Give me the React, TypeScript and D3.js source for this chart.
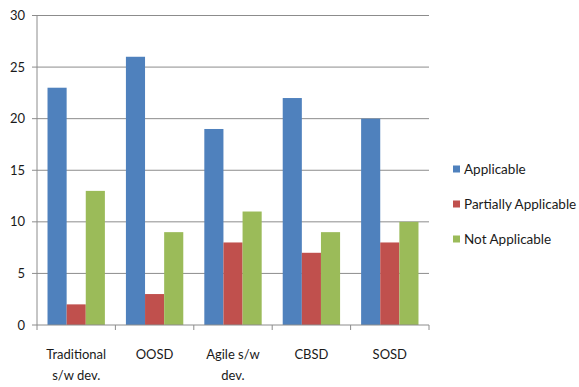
import React from "react";
import * as d3 from "d3";

const categories = ["Traditional s/w dev.", "OOSD", "Agile s/w dev.", "CBSD", "SOSD"];
const categoryLines = [["Traditional", "s/w dev."], ["OOSD"], ["Agile s/w", "dev."], ["CBSD"], ["SOSD"]];
const seriesNames = ["Applicable", "Partially Applicable", "Not Applicable"];
const applicable = [23, 26, 19, 22, 20];
const partially = [2, 3, 8, 7, 8];
const notApplicable = [13, 9, 11, 9, 10];
const yTicks = [0, 5, 10, 15, 20, 25, 30];
const colors = ["#4F81BD", "#C0504D", "#9BBB59"];

export default function App() {
  const W = 579, H = 387;
  const left = 37, right = 429, top = 15.5, bottom = 325;
  const x = d3.scaleBand().domain(categories).range([left, right]).paddingInner(0).paddingOuter(0);
  const inner = d3.scaleBand().domain(seriesNames).range([0, x.bandwidth()]).paddingOuter(0.55).paddingInner(0);
  const y = d3.scaleLinear().domain([0, 30]).range([bottom, top]);
  const series = [applicable, partially, notApplicable];
  const font = "Lato, 'Open Sans', sans-serif";
  return (
    <svg width={W} height={H} style={{ position: "absolute", left: 0, top: 0, background: "#fff" }} fontFamily={font}>
      <rect width={W} height={H} fill="#fff" />
      {yTicks.map((t) => (
        <g key={t}>
          {t > 0 && <line x1={left} x2={right} y1={y(t)} y2={y(t)} stroke="#8c8c8c" strokeWidth={1} />}
          <line x1={left - 5} x2={left} y1={y(t)} y2={y(t)} stroke="#8c8c8c" />
          <text x={25} y={y(t)} dy="0.35em" textAnchor="end" fontSize={13} fill="#1a1a1a">{t}</text>
        </g>
      ))}
      {series.map((vals, si) =>
        categories.map((c, ci) => (
          <rect key={si + "-" + ci}
            x={(x(c) as number) + (inner(seriesNames[si]) as number)}
            y={y(vals[ci])}
            width={inner.bandwidth()}
            height={y(0) - y(vals[ci])}
            fill={colors[si]} />
        ))
      )}
      <line x1={left} x2={left} y1={top} y2={bottom} stroke="#8c8c8c" />
      <line x1={left} x2={right} y1={bottom} y2={bottom} stroke="#8c8c8c" />
      {categories.map((c) => (
        <line key={c} x1={x(c) as number} x2={x(c) as number} y1={bottom} y2={bottom + 5} stroke="#8c8c8c" />
      ))}
      <line x1={right} x2={right} y1={bottom} y2={bottom + 5} stroke="#8c8c8c" />
      {categories.map((c, i) => (
        <text key={c} x={(x(c) as number) + x.bandwidth() / 2} y={359} textAnchor="middle" fontSize={13} fill="#1a1a1a">
          {categoryLines[i].map((l, j) => (
            <tspan key={j} x={(x(c) as number) + x.bandwidth() / 2} dy={j === 0 ? 0 : 21}>{l}</tspan>
          ))}
        </text>
      ))}
      {seriesNames.map((s, i) => (
        <g key={s} transform={`translate(453, ${169 + i * 35})`}>
          <rect x={0} y={-3.5} width={7} height={7} fill={colors[i]} />
          <text x={11} y={0} dy="0.35em" fontSize={13.5} fill="#1a1a1a">{s}</text>
        </g>
      ))}
    </svg>
  );
}
